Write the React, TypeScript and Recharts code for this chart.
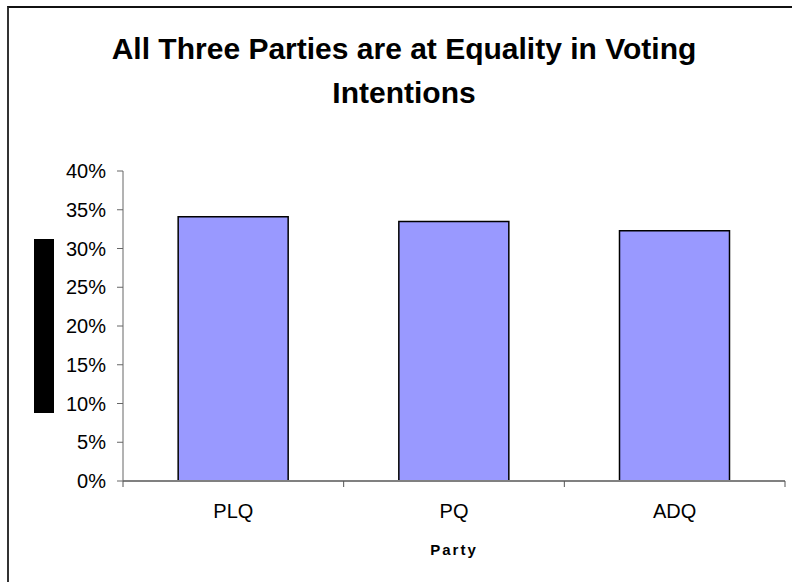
import React from "react";
import { BarChart, Bar, XAxis, YAxis, Label } from "recharts";

const parties = ["PLQ", "PQ", "ADQ"];
const shares = [0.341, 0.335, 0.323];
const yTicks = [0, 0.05, 0.1, 0.15, 0.2, 0.25, 0.3, 0.35, 0.4];
const bandEdges = [0, 1, 2, 3];

const data = parties.map((party, i) => ({ party, share: shares[i], pos: i + 0.5 }));

const FONT = "'Liberation Sans', Arial, sans-serif";

function HiddenLabel(props: any) {
  const { viewBox } = props;
  const cy = viewBox.y + viewBox.height / 2;
  return <rect x={viewBox.x + 27} y={cy - 87} width={20} height={174} fill="#000" />;
}

function NoText() {
  return <g />;
}

export default function App() {
  return (
    <div
      style={{
        position: "absolute",
        left: 7,
        top: 6,
        width: 785,
        height: 576,
        overflow: "hidden",
        background: "#fff",
        borderTop: "2px solid #111",
        borderLeft: "2px solid #333",
        boxSizing: "border-box",
        fontFamily: FONT,
      }}
    >
      <div
        style={{
          position: "absolute",
          left: -2,
          top: 19,
          width: 794,
          textAlign: "center",
          fontSize: 30,
          fontWeight: "bold",
          lineHeight: "44px",
          color: "#000",
        }}
      >
        All Three Parties are at Equality in Voting
        <br />
        Intentions
      </div>
      <div style={{ position: "absolute", left: -2, top: -2 }}>
        <BarChart
          width={785}
          height={576}
          data={data}
          margin={{ top: 165, right: 7, left: 0, bottom: 0 }}
          barCategoryGap="25%"
        >
          <XAxis
            xAxisId="a"
            dataKey="pos"
            type="number"
            domain={[0, 3]}
            ticks={bandEdges}
            allowDataOverflow
            height={1}
            tickSize={6}
            tick={<NoText />}
            axisLine={{ stroke: "#808080", strokeWidth: 2 }}
            tickLine={{ stroke: "#555" }}
          />
          <XAxis
            xAxisId="b"
            dataKey="party"
            height={100}
            axisLine={false}
            tickLine={false}
            tickSize={0}
            tickMargin={22}
            tick={{ fill: "#000", fontSize: 20, fontFamily: FONT }}
          >
            <Label
              value="Party"
              position="insideBottom"
              offset={27}
              fill="#000"
              fontSize={15}
              fontWeight="bold"
              letterSpacing={2}
              fontFamily={FONT}
            />
          </XAxis>
          <YAxis
            width={116}
            domain={[0, 0.4]}
            ticks={yTicks}
            tickSize={6}
            tickMargin={11}
            tickFormatter={(v: number) => `${Math.round(v * 100)}%`}
            tick={{ fill: "#000", fontSize: 20, fontFamily: FONT }}
            axisLine={{ stroke: "#666" }}
            tickLine={{ stroke: "#666" }}
            label={<HiddenLabel />}
          />
          <Bar
            xAxisId="b"
            dataKey="share"
            fill="#9999FF"
            stroke="#000"
            strokeWidth={1.5}
            isAnimationActive={false}
          />
        </BarChart>
      </div>
    </div>
  );
}
